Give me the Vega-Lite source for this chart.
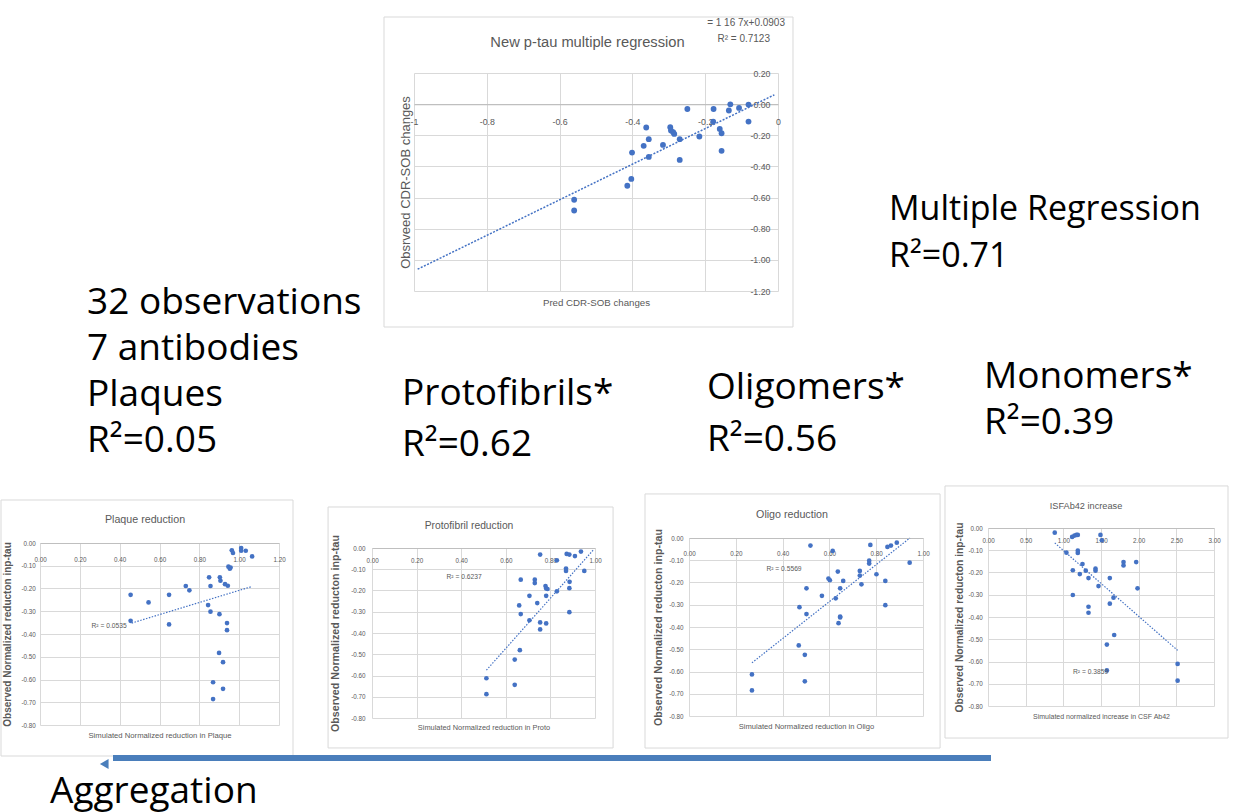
{
  "$schema": "https://vega.github.io/schema/vega-lite/v6.json",
  "background": "white",
  "padding": 0,
  "spacing": 0,
  "bounds": "flush",
  "config": {
    "view": {"stroke": null},
    "locale": {"number": {"decimal": ".", "thousands": ",", "grouping": [3], "currency": ["$", ""], "minus": "-"}},
    "title": {"fontWeight": "normal"},
    "axis": {
      "labelFont": "Liberation Sans", "titleFont": "Liberation Sans",
      "labelColor": "#595959", "titleColor": "#595959",
      "gridColor": "#d9d9d9", "domainColor": "#bfbfbf",
      "ticks": false, "tickSize": 0, "labelFlush": false, "labelOverlap": false, "labelBound": false,
      "titleFontWeight": "normal", "labelAngle": 0
    }
  },
  "datasets": {
    "top": [
      {"x": -0.560, "y": -0.614}, {"x": -0.560, "y": -0.683}, {"x": -0.414, "y": -0.524}, {"x": -0.403, "y": -0.480},
      {"x": -0.401, "y": -0.311}, {"x": -0.369, "y": -0.268}, {"x": -0.362, "y": -0.150}, {"x": -0.355, "y": -0.225},
      {"x": -0.355, "y": -0.339}, {"x": -0.316, "y": -0.262}, {"x": -0.296, "y": -0.148}, {"x": -0.294, "y": -0.170},
      {"x": -0.288, "y": -0.180}, {"x": -0.285, "y": -0.191}, {"x": -0.270, "y": -0.225}, {"x": -0.270, "y": -0.358},
      {"x": -0.249, "y": -0.031}, {"x": -0.216, "y": -0.208}, {"x": -0.178, "y": -0.112}, {"x": -0.177, "y": -0.031},
      {"x": -0.160, "y": -0.159}, {"x": -0.155, "y": -0.187}, {"x": -0.155, "y": -0.300}, {"x": -0.135, "y": -0.041},
      {"x": -0.131, "y": -0.001}, {"x": -0.107, "y": -0.024}, {"x": -0.081, "y": -0.003}, {"x": -0.081, "y": -0.112}
    ],
    "top_trend": [{"x": -0.99, "y": -1.06}, {"x": -0.01, "y": 0.06}],
    "plaque": [
      {"x": 0.455, "y": -0.228}, {"x": 0.455, "y": -0.342}, {"x": 0.545, "y": -0.261}, {"x": 0.648, "y": -0.228},
      {"x": 0.648, "y": -0.358}, {"x": 0.732, "y": -0.189}, {"x": 0.750, "y": -0.208}, {"x": 0.844, "y": -0.273},
      {"x": 0.849, "y": -0.151}, {"x": 0.856, "y": -0.189}, {"x": 0.856, "y": -0.302}, {"x": 0.869, "y": -0.612},
      {"x": 0.869, "y": -0.686}, {"x": 0.899, "y": -0.483}, {"x": 0.901, "y": -0.313}, {"x": 0.903, "y": -0.151},
      {"x": 0.906, "y": -0.166}, {"x": 0.919, "y": -0.524}, {"x": 0.919, "y": -0.641}, {"x": 0.929, "y": -0.181},
      {"x": 0.939, "y": -0.352}, {"x": 0.939, "y": -0.383}, {"x": 0.943, "y": -0.188}, {"x": 0.946, "y": -0.104},
      {"x": 0.953, "y": -0.113}, {"x": 0.957, "y": -0.108}, {"x": 0.963, "y": -0.032}, {"x": 0.969, "y": -0.044},
      {"x": 1.010, "y": -0.022}, {"x": 1.010, "y": -0.034}, {"x": 1.033, "y": -0.034}, {"x": 1.065, "y": -0.059}
    ],
    "plaque_trend": [{"x": 0.46, "y": -0.352}, {"x": 1.065, "y": -0.191}],
    "proto": [
      {"x": 0.513, "y": -0.613}, {"x": 0.513, "y": -0.688}, {"x": 0.640, "y": -0.525}, {"x": 0.640, "y": -0.644},
      {"x": 0.663, "y": -0.481}, {"x": 0.660, "y": -0.270}, {"x": 0.667, "y": -0.311}, {"x": 0.667, "y": -0.149},
      {"x": 0.706, "y": -0.225}, {"x": 0.706, "y": -0.340}, {"x": 0.730, "y": -0.149}, {"x": 0.730, "y": -0.165},
      {"x": 0.741, "y": -0.259}, {"x": 0.754, "y": -0.031}, {"x": 0.754, "y": -0.350}, {"x": 0.754, "y": -0.383},
      {"x": 0.778, "y": -0.179}, {"x": 0.781, "y": -0.190}, {"x": 0.781, "y": -0.225}, {"x": 0.781, "y": -0.355},
      {"x": 0.787, "y": -0.193}, {"x": 0.829, "y": -0.058}, {"x": 0.829, "y": -0.204}, {"x": 0.873, "y": -0.028},
      {"x": 0.870, "y": -0.097}, {"x": 0.870, "y": -0.108}, {"x": 0.885, "y": -0.031}, {"x": 0.886, "y": -0.159},
      {"x": 0.885, "y": -0.189}, {"x": 0.885, "y": -0.302}, {"x": 0.910, "y": -0.038}, {"x": 0.937, "y": -0.017},
      {"x": 0.952, "y": -0.108}
    ],
    "proto_trend": [{"x": 0.513, "y": -0.575}, {"x": 0.996, "y": -0.005}],
    "oligo": [
      {"x": 0.269, "y": -0.613}, {"x": 0.269, "y": -0.685}, {"x": 0.469, "y": -0.483}, {"x": 0.472, "y": -0.311},
      {"x": 0.495, "y": -0.525}, {"x": 0.495, "y": -0.644}, {"x": 0.502, "y": -0.226}, {"x": 0.502, "y": -0.342},
      {"x": 0.519, "y": -0.034}, {"x": 0.568, "y": -0.260}, {"x": 0.596, "y": -0.182}, {"x": 0.602, "y": -0.190},
      {"x": 0.614, "y": -0.058}, {"x": 0.627, "y": -0.271}, {"x": 0.636, "y": -0.151}, {"x": 0.639, "y": -0.383},
      {"x": 0.646, "y": -0.353}, {"x": 0.646, "y": -0.226}, {"x": 0.646, "y": -0.357}, {"x": 0.659, "y": -0.193},
      {"x": 0.730, "y": -0.148}, {"x": 0.730, "y": -0.169}, {"x": 0.737, "y": -0.208}, {"x": 0.770, "y": -0.102},
      {"x": 0.770, "y": -0.115}, {"x": 0.775, "y": -0.031}, {"x": 0.801, "y": -0.163}, {"x": 0.839, "y": -0.193},
      {"x": 0.839, "y": -0.302}, {"x": 0.848, "y": -0.040}, {"x": 0.863, "y": -0.034}, {"x": 0.888, "y": -0.021},
      {"x": 0.943, "y": -0.111}
    ],
    "oligo_trend": [{"x": 0.269, "y": -0.561}, {"x": 0.944, "y": 0.0}],
    "isf": [
      {"x": 0.886, "y": -0.021}, {"x": 1.041, "y": -0.111}, {"x": 1.117, "y": -0.040}, {"x": 1.148, "y": -0.034},
      {"x": 1.174, "y": -0.031}, {"x": 1.192, "y": -0.031}, {"x": 1.126, "y": -0.190}, {"x": 1.126, "y": -0.301},
      {"x": 1.192, "y": -0.102}, {"x": 1.192, "y": -0.112}, {"x": 1.219, "y": -0.207}, {"x": 1.254, "y": -0.162},
      {"x": 1.298, "y": -0.192}, {"x": 1.334, "y": -0.225}, {"x": 1.334, "y": -0.354}, {"x": 1.334, "y": -0.381},
      {"x": 1.427, "y": -0.183}, {"x": 1.427, "y": -0.192}, {"x": 1.467, "y": -0.261}, {"x": 1.493, "y": -0.031},
      {"x": 1.511, "y": -0.055}, {"x": 1.578, "y": -0.524}, {"x": 1.578, "y": -0.640}, {"x": 1.617, "y": -0.225},
      {"x": 1.617, "y": -0.340}, {"x": 1.666, "y": -0.313}, {"x": 1.675, "y": -0.481}, {"x": 1.799, "y": -0.153},
      {"x": 1.799, "y": -0.168}, {"x": 1.967, "y": -0.153}, {"x": 1.985, "y": -0.271}, {"x": 2.517, "y": -0.611},
      {"x": 2.517, "y": -0.686}
    ],
    "isf_trend": [{"x": 0.886, "y": -0.067}, {"x": 2.517, "y": -0.550}]
  },
  "vconcat": [
    {"columns": 2, "spacing": 0, "align": "each", "bounds": "flush", "concat": [
      {"width": 414, "height": 73, "data": {"values": []}, "mark": "point"},
      {"width": 1, "height": 1, "data": {"values": []}, "mark": "point"},
      {"width": 1, "height": 1, "data": {"values": []}, "mark": "point"},
      {
        "width": 364, "height": 218,
        "title": {"text": "New p-tau multiple regression", "anchor": "middle", "frame": "group", "dx": -8.5, "offset": -33.5, "font": "Liberation Sans", "fontSize": 14.7, "fontWeight": "normal", "color": "#595959"},
        "layer": [
          {
            "data": {"name": "top"},
            "mark": {"type": "circle", "size": 34, "color": "#4472c4", "opacity": 1},
            "encoding": {
              "x": {"field": "x", "type": "quantitative", "scale": {"domain": [-1, 0], "nice": false, "zero": false},
                "axis": {"orient": "top", "offset": -31.14, "values": [-1, -0.8, -0.6, -0.4, -0.2, 0], "tickCount": 50, "format": "~g", "labelPadding": -17, "labelBaseline": "middle", "labelFontSize": 8.8, "domain": true, "domainColor": "#bfbfbf", "domainWidth": 1.2, "grid": true,
                  "title": "Pred CDR-SOB changes", "titleFontSize": 9.7, "titleX": 182, "titleY": 198.6, "titleBaseline": "middle", "titleAlign": "center"}},
              "y": {"field": "y", "type": "quantitative", "scale": {"domain": [-1.2, 0.2], "nice": false, "zero": false},
                "axis": {"orient": "right", "values": [-1.2, -1, -0.8, -0.6, -0.4, -0.2, 0, 0.2], "tickCount": 50, "format": ".2f", "labelAlign": "right", "labelPadding": -8, "labelBaseline": "middle", "labelFontSize": 8.8, "domain": false, "grid": true,
                  "title": "Obsrveed  CDR-SOB changes", "titleFontSize": 13, "titleAngle": 270, "titleX": -372.3, "titleY": 109, "titleBaseline": "middle", "titleAlign": "center"}}
            }
          },
          {
            "data": {"name": "top_trend"},
            "mark": {"type": "line", "color": "#4472c4", "strokeWidth": 1.5, "strokeDash": [2, 1.5]},
            "encoding": {
              "x": {"field": "x", "type": "quantitative", "scale": {"domain": [-1, 0], "nice": false, "zero": false}},
              "y": {"field": "y", "type": "quantitative", "scale": {"domain": [-1.2, 0.2], "nice": false, "zero": false}}
            }
          },
          {
            "data": {"values": [{}]},
            "mark": {"type": "rect", "fill": "transparent", "fillOpacity": 0, "stroke": "#d9d9d9", "strokeWidth": 1},
            "encoding": {
              "x": {"datum": -1.0824, "type": "quantitative", "scale": {"domain": [-1, 0], "nice": false, "zero": false}},
              "x2": {"datum": 0.0412},
              "y": {"datum": 0.5596, "type": "quantitative", "scale": {"domain": [-1.2, 0.2], "nice": false, "zero": false}},
              "y2": {"datum": -1.4312}
            }
          },
          {
            "data": {"values": [{}]},
            "mark": {"type": "text", "text": "= 1 16  7x+0.0903", "align": "right", "baseline": "middle", "font": "Liberation Sans", "fontSize": 10, "color": "#595959"},
            "encoding": {
              "x": {"datum": 0.0192, "type": "quantitative", "scale": {"domain": [-1, 0], "nice": false, "zero": false}},
              "y": {"datum": 0.521, "type": "quantitative", "scale": {"domain": [-1.2, 0.2], "nice": false, "zero": false}}
            }
          },
          {
            "data": {"values": [{}]},
            "mark": {"type": "text", "text": "R² = 0.7123", "align": "right", "baseline": "middle", "font": "Liberation Sans", "fontSize": 10, "color": "#595959"},
            "encoding": {
              "x": {"datum": -0.022, "type": "quantitative", "scale": {"domain": [-1, 0], "nice": false, "zero": false}},
              "y": {"datum": 0.418, "type": "quantitative", "scale": {"domain": [-1.2, 0.2], "nice": false, "zero": false}}
            }
          }
        ]
      }
    ]},
    {"columns": 2, "spacing": 0, "align": "each", "bounds": "flush", "concat": [
      {"width": 40, "height": 543, "data": {"values": []}, "mark": "point"},
      {"width": 1, "height": 1, "data": {"values": []}, "mark": "point"},
      {"width": 1, "height": 1, "data": {"values": []}, "mark": "point"},
      {
        "width": 239, "height": 182,
        "title": {"text": "Plaque reduction", "anchor": "middle", "frame": "group", "dx": -14.5, "offset": -25.8, "font": "Liberation Sans", "fontSize": 10.7, "fontWeight": "normal", "color": "#595959"},
        "layer": [
          {
            "data": {"name": "plaque"},
            "mark": {"type": "circle", "size": 22, "color": "#4472c4", "opacity": 1},
            "encoding": {
              "x": {"field": "x", "type": "quantitative", "scale": {"domain": [0, 1.2], "nice": false, "zero": false},
                "axis": {"orient": "top", "values": [0, 0.2, 0.4, 0.6, 0.8, 1, 1.2], "tickCount": 50, "format": ".2f", "labelPadding": -16, "labelBaseline": "middle", "labelFontSize": 6.3, "domain": true, "grid": true,
                  "title": "Simulated Normalized reduction in Plaque", "titleFontSize": 7.7, "titleX": 119.5, "titleY": 192, "titleBaseline": "middle", "titleAlign": "center"}},
              "y": {"field": "y", "type": "quantitative", "scale": {"domain": [-0.8, 0], "nice": false, "zero": false},
                "axis": {"orient": "left", "values": [-0.8, -0.7, -0.6, -0.5, -0.4, -0.3, -0.2, -0.1, 0], "tickCount": 50, "format": ".2f", "labelPadding": 4.7, "labelBaseline": "middle", "labelFontSize": 6.3, "domain": false, "grid": true,
                  "title": "Observed Normalized reducton inp-tau", "titleFontSize": 10, "titleFontWeight": "bold", "titleAngle": 270, "titleX": -33, "titleY": 91, "titleBaseline": "middle", "titleAlign": "center"}}
            }
          },
          {
            "data": {"name": "plaque_trend"},
            "mark": {"type": "line", "color": "#4472c4", "strokeWidth": 1.2, "strokeDash": [1.5, 1.5]},
            "encoding": {
              "x": {"field": "x", "type": "quantitative", "scale": {"domain": [0, 1.2], "nice": false, "zero": false}},
              "y": {"field": "y", "type": "quantitative", "scale": {"domain": [-0.8, 0], "nice": false, "zero": false}}
            }
          },
          {
            "data": {"values": [{}]},
            "mark": {"type": "rect", "fill": "transparent", "fillOpacity": 0, "stroke": "#d9d9d9", "strokeWidth": 1},
            "encoding": {
              "x": {"datum": -0.1958, "type": "quantitative", "scale": {"domain": [0, 1.2], "nice": false, "zero": false}},
              "x2": {"datum": 1.2703},
              "y": {"datum": 0.189, "type": "quantitative", "scale": {"domain": [-0.8, 0], "nice": false, "zero": false}},
              "y2": {"datum": -0.9363}
            }
          },
          {
            "data": {"values": [{}]},
            "mark": {"type": "text", "text": "R² = 0.0535", "align": "right", "baseline": "middle", "font": "Liberation Sans", "fontSize": 6.7, "color": "#595959"},
            "encoding": {
              "x": {"datum": 0.435, "type": "quantitative", "scale": {"domain": [0, 1.2], "nice": false, "zero": false}},
              "y": {"datum": -0.365, "type": "quantitative", "scale": {"domain": [-0.8, 0], "nice": false, "zero": false}}
            }
          }
        ]
      }
    ]},
    {"columns": 2, "spacing": 0, "align": "each", "bounds": "flush", "concat": [
      {"width": 372, "height": 548, "data": {"values": []}, "mark": "point"},
      {"width": 1, "height": 1, "data": {"values": []}, "mark": "point"},
      {"width": 1, "height": 1, "data": {"values": []}, "mark": "point"},
      {
        "width": 223, "height": 170,
        "title": {"text": "Protofibril reduction", "anchor": "middle", "frame": "group", "dx": -14.5, "offset": -25, "font": "Liberation Sans", "fontSize": 10.3, "fontWeight": "normal", "color": "#595959"},
        "layer": [
          {
            "data": {"name": "proto"},
            "mark": {"type": "circle", "size": 22, "color": "#4472c4", "opacity": 1},
            "encoding": {
              "x": {"field": "x", "type": "quantitative", "scale": {"domain": [0, 1], "nice": false, "zero": false},
                "axis": {"orient": "top", "values": [0, 0.2, 0.4, 0.6, 0.8, 1], "tickCount": 50, "format": ".2f", "labelPadding": -12, "labelBaseline": "middle", "labelFontSize": 6.3, "domain": true, "grid": true,
                  "title": "Simulated Normalized reduction in Proto", "titleFontSize": 7.4, "titleX": 111.5, "titleY": 179, "titleBaseline": "middle", "titleAlign": "center"}},
              "y": {"field": "y", "type": "quantitative", "scale": {"domain": [-0.8, 0], "nice": false, "zero": false},
                "axis": {"orient": "left", "values": [-0.8, -0.7, -0.6, -0.5, -0.4, -0.3, -0.2, -0.1, 0], "tickCount": 50, "format": ".2f", "labelPadding": 7, "labelBaseline": "middle", "labelFontSize": 6.3, "domain": false, "grid": true,
                  "title": "Observed Normalized reducton inp-tau", "titleFontSize": 10.7, "titleFontWeight": "bold", "titleAngle": 270, "titleX": -37, "titleY": 85, "titleBaseline": "middle", "titleAlign": "center"}}
            }
          },
          {
            "data": {"name": "proto_trend"},
            "mark": {"type": "line", "color": "#4472c4", "strokeWidth": 1.2, "strokeDash": [1.5, 1.5]},
            "encoding": {
              "x": {"field": "x", "type": "quantitative", "scale": {"domain": [0, 1], "nice": false, "zero": false}},
              "y": {"field": "y", "type": "quantitative", "scale": {"domain": [-0.8, 0], "nice": false, "zero": false}}
            }
          },
          {
            "data": {"values": [{}]},
            "mark": {"type": "rect", "fill": "transparent", "fillOpacity": 0, "stroke": "#d9d9d9", "strokeWidth": 1},
            "encoding": {
              "x": {"datum": -0.197, "type": "quantitative", "scale": {"domain": [0, 1], "nice": false, "zero": false}},
              "x2": {"datum": 1.081},
              "y": {"datum": 0.193, "type": "quantitative", "scale": {"domain": [-0.8, 0], "nice": false, "zero": false}},
              "y2": {"datum": -0.941}
            }
          },
          {
            "data": {"values": [{}]},
            "mark": {"type": "text", "text": "R² = 0.6237", "align": "center", "baseline": "middle", "font": "Liberation Sans", "fontSize": 6.7, "color": "#595959"},
            "encoding": {
              "x": {"datum": 0.413, "type": "quantitative", "scale": {"domain": [0, 1], "nice": false, "zero": false}},
              "y": {"datum": -0.136, "type": "quantitative", "scale": {"domain": [-0.8, 0], "nice": false, "zero": false}}
            }
          }
        ]
      }
    ]},
    {"columns": 2, "spacing": 0, "align": "each", "bounds": "flush", "concat": [
      {"width": 689, "height": 538, "data": {"values": []}, "mark": "point"},
      {"width": 1, "height": 1, "data": {"values": []}, "mark": "point"},
      {"width": 1, "height": 1, "data": {"values": []}, "mark": "point"},
      {
        "width": 234, "height": 178,
        "title": {"text": "Oligo reduction", "anchor": "middle", "frame": "group", "dx": -14, "offset": -27.1, "font": "Liberation Sans", "fontSize": 10.7, "fontWeight": "normal", "color": "#595959"},
        "layer": [
          {
            "data": {"name": "oligo"},
            "mark": {"type": "circle", "size": 22, "color": "#4472c4", "opacity": 1},
            "encoding": {
              "x": {"field": "x", "type": "quantitative", "scale": {"domain": [0, 1], "nice": false, "zero": false},
                "axis": {"orient": "top", "values": [0, 0.2, 0.4, 0.6, 0.8, 1], "tickCount": 50, "format": ".2f", "labelPadding": -15.7, "labelBaseline": "middle", "labelFontSize": 6.3, "domain": true, "grid": true,
                  "title": "Simulated Normalized reduction in Oligo", "titleFontSize": 7.6, "titleX": 117, "titleY": 188, "titleBaseline": "middle", "titleAlign": "center"}},
              "y": {"field": "y", "type": "quantitative", "scale": {"domain": [-0.8, 0], "nice": false, "zero": false},
                "axis": {"orient": "left", "values": [-0.8, -0.7, -0.6, -0.5, -0.4, -0.3, -0.2, -0.1, 0], "tickCount": 50, "format": ".2f", "labelPadding": 6, "labelBaseline": "middle", "labelFontSize": 6.3, "domain": false, "grid": true,
                  "title": "Observed Normalized reducton inp-tau", "titleFontSize": 10.7, "titleFontWeight": "bold", "titleAngle": 270, "titleX": -31, "titleY": 89, "titleBaseline": "middle", "titleAlign": "center"}}
            }
          },
          {
            "data": {"name": "oligo_trend"},
            "mark": {"type": "line", "color": "#4472c4", "strokeWidth": 1.2, "strokeDash": [1.5, 1.5]},
            "encoding": {
              "x": {"field": "x", "type": "quantitative", "scale": {"domain": [0, 1], "nice": false, "zero": false}},
              "y": {"field": "y", "type": "quantitative", "scale": {"domain": [-0.8, 0], "nice": false, "zero": false}}
            }
          },
          {
            "data": {"values": [{}]},
            "mark": {"type": "rect", "fill": "transparent", "fillOpacity": 0, "stroke": "#d9d9d9", "strokeWidth": 1},
            "encoding": {
              "x": {"datum": -0.188, "type": "quantitative", "scale": {"domain": [0, 1], "nice": false, "zero": false}},
              "x2": {"datum": 1.073},
              "y": {"datum": 0.198, "type": "quantitative", "scale": {"domain": [-0.8, 0], "nice": false, "zero": false}},
              "y2": {"datum": -0.944}
            }
          },
          {
            "data": {"values": [{}]},
            "mark": {"type": "text", "text": "R² = 0.5569", "align": "center", "baseline": "middle", "font": "Liberation Sans", "fontSize": 6.7, "color": "#595959"},
            "encoding": {
              "x": {"datum": 0.406, "type": "quantitative", "scale": {"domain": [0, 1], "nice": false, "zero": false}},
              "y": {"datum": -0.141, "type": "quantitative", "scale": {"domain": [-0.8, 0], "nice": false, "zero": false}}
            }
          }
        ]
      }
    ]},
    {"columns": 2, "spacing": 0, "align": "each", "bounds": "flush", "concat": [
      {"width": 988, "height": 528, "data": {"values": []}, "mark": "point"},
      {"width": 1, "height": 1, "data": {"values": []}, "mark": "point"},
      {"width": 1, "height": 1, "data": {"values": []}, "mark": "point"},
      {
        "width": 226, "height": 178,
        "title": {"text": "ISFAb42 increase", "anchor": "middle", "frame": "group", "dx": -15, "offset": -26.1, "font": "Liberation Sans", "fontSize": 9.2, "fontWeight": "normal", "color": "#595959"},
        "layer": [
          {
            "data": {"name": "isf"},
            "mark": {"type": "circle", "size": 22, "color": "#4472c4", "opacity": 1},
            "encoding": {
              "x": {"field": "x", "type": "quantitative", "scale": {"domain": [0, 3], "nice": false, "zero": false},
                "axis": {"orient": "top", "values": [0, 0.5, 1, 1.5, 2, 2.5, 3], "tickCount": 50, "format": ".2f", "labelPadding": -12.4, "labelBaseline": "middle", "labelFontSize": 6.3, "domain": true, "grid": true,
                  "title": "Simulated normalized increase in CSF Ab42", "titleFontSize": 7, "titleX": 113, "titleY": 188.7, "titleBaseline": "middle", "titleAlign": "center"}},
              "y": {"field": "y", "type": "quantitative", "scale": {"domain": [-0.8, 0], "nice": false, "zero": false},
                "axis": {"orient": "left", "values": [-0.8, -0.7, -0.6, -0.5, -0.4, -0.3, -0.2, -0.1, 0], "tickCount": 50, "format": ".2f", "labelPadding": 5.7, "labelBaseline": "middle", "labelFontSize": 6.3, "domain": false, "grid": true,
                  "title": "Observed Normalized reducton inp-tau", "titleFontSize": 10.3, "titleFontWeight": "bold", "titleAngle": 270, "titleX": -29, "titleY": 89, "titleBaseline": "middle", "titleAlign": "center"}}
            }
          },
          {
            "data": {"name": "isf_trend"},
            "mark": {"type": "line", "color": "#4472c4", "strokeWidth": 1.2, "strokeDash": [1.5, 1.5]},
            "encoding": {
              "x": {"field": "x", "type": "quantitative", "scale": {"domain": [0, 3], "nice": false, "zero": false}},
              "y": {"field": "y", "type": "quantitative", "scale": {"domain": [-0.8, 0], "nice": false, "zero": false}}
            }
          },
          {
            "data": {"values": [{}]},
            "mark": {"type": "rect", "fill": "transparent", "fillOpacity": 0, "stroke": "#d9d9d9", "strokeWidth": 1},
            "encoding": {
              "x": {"datum": -0.571, "type": "quantitative", "scale": {"domain": [0, 3], "nice": false, "zero": false}},
              "x2": {"datum": 3.186},
              "y": {"datum": 0.189, "type": "quantitative", "scale": {"domain": [-0.8, 0], "nice": false, "zero": false}},
              "y2": {"datum": -0.944}
            }
          },
          {
            "data": {"values": [{}]},
            "mark": {"type": "text", "text": "R² = 0.3859", "align": "center", "baseline": "middle", "font": "Liberation Sans", "fontSize": 6.7, "color": "#595959"},
            "encoding": {
              "x": {"datum": 1.361, "type": "quantitative", "scale": {"domain": [0, 3], "nice": false, "zero": false}},
              "y": {"datum": -0.649, "type": "quantitative", "scale": {"domain": [-0.8, 0], "nice": false, "zero": false}}
            }
          }
        ]
      }
    ]},
    {"columns": 2, "spacing": 0, "align": "each", "bounds": "flush", "concat": [
      {"width": 113, "height": 755, "data": {"values": []}, "mark": "point"},
      {"width": 1, "height": 1, "data": {"values": []}, "mark": "point"},
      {"width": 1, "height": 1, "data": {"values": []}, "mark": "point"},
      {
        "width": 878, "height": 6,
        "data": {"values": [{}]},
        "layer": [
          {
            "mark": {"type": "rect", "color": "#4a7ebb"},
            "encoding": {
              "x": {"datum": 0, "type": "quantitative", "scale": {"domain": [0, 1], "nice": false, "zero": false}, "axis": null},
              "x2": {"datum": 1},
              "y": {"datum": 0, "type": "quantitative", "scale": {"domain": [0, 1], "nice": false, "zero": false}, "axis": null},
              "y2": {"datum": 1}
            }
          },
          {
            "mark": {"type": "point", "shape": "triangle-left", "filled": true, "size": 100, "color": "#4a7ebb", "opacity": 1},
            "encoding": {
              "x": {"datum": -0.01, "type": "quantitative", "scale": {"domain": [0, 1], "nice": false, "zero": false}, "axis": null},
              "y": {"datum": -0.5, "type": "quantitative", "scale": {"domain": [0, 1], "nice": false, "zero": false}, "axis": null}
            }
          }
        ]
      }
    ]},
    {"columns": 2, "spacing": 0, "align": "each", "bounds": "flush", "concat": [
      {"width": 87, "height": 460, "data": {"values": []}, "mark": "point"},
      {"width": 1, "height": 1, "data": {"values": []}, "mark": "point"},
      {"width": 1, "height": 1, "data": {"values": []}, "mark": "point"},
      {"width": 1, "height": 1, "data": {"values": []}, "mark": "point",
        "title": {"text": ["32 observations", "7 antibodies", "Plaques", "R²=0.05"], "anchor": "start", "frame": "group", "orient": "top", "offset": 0, "font": "Open Sans", "fontSize": 37, "fontWeight": "normal", "color": "black", "lineHeight": 46}}
    ]},
    {"columns": 2, "spacing": 0, "align": "each", "bounds": "flush", "concat": [
      {"width": 889, "height": 274, "data": {"values": []}, "mark": "point"},
      {"width": 1, "height": 1, "data": {"values": []}, "mark": "point"},
      {"width": 1, "height": 1, "data": {"values": []}, "mark": "point"},
      {"width": 1, "height": 1, "data": {"values": []}, "mark": "point",
        "title": {"text": ["Multiple Regression", "R²=0.71"], "anchor": "start", "frame": "group", "orient": "top", "offset": 0, "font": "Open Sans", "fontSize": 34, "fontWeight": "normal", "color": "black", "lineHeight": 47.4}}
    ]},
    {"columns": 2, "spacing": 0, "align": "each", "bounds": "flush", "concat": [
      {"width": 402, "height": 464, "data": {"values": []}, "mark": "point"},
      {"width": 1, "height": 1, "data": {"values": []}, "mark": "point"},
      {"width": 1, "height": 1, "data": {"values": []}, "mark": "point"},
      {"width": 1, "height": 1, "data": {"values": []}, "mark": "point",
        "title": {"text": ["Protofibrils*", "R²=0.62"], "anchor": "start", "frame": "group", "orient": "top", "offset": 0, "font": "Open Sans", "fontSize": 37, "fontWeight": "normal", "color": "black", "lineHeight": 50.6}}
    ]},
    {"columns": 2, "spacing": 0, "align": "each", "bounds": "flush", "concat": [
      {"width": 707, "height": 459, "data": {"values": []}, "mark": "point"},
      {"width": 1, "height": 1, "data": {"values": []}, "mark": "point"},
      {"width": 1, "height": 1, "data": {"values": []}, "mark": "point"},
      {"width": 1, "height": 1, "data": {"values": []}, "mark": "point",
        "title": {"text": ["Oligomers*", "R²=0.56"], "anchor": "start", "frame": "group", "orient": "top", "offset": 0, "font": "Open Sans", "fontSize": 37, "fontWeight": "normal", "color": "black", "lineHeight": 52.4}}
    ]},
    {"columns": 2, "spacing": 0, "align": "each", "bounds": "flush", "concat": [
      {"width": 984, "height": 442, "data": {"values": []}, "mark": "point"},
      {"width": 1, "height": 1, "data": {"values": []}, "mark": "point"},
      {"width": 1, "height": 1, "data": {"values": []}, "mark": "point"},
      {"width": 1, "height": 1, "data": {"values": []}, "mark": "point",
        "title": {"text": ["Monomers*", "R²=0.39"], "anchor": "start", "frame": "group", "orient": "top", "offset": 0, "font": "Open Sans", "fontSize": 37, "fontWeight": "normal", "color": "black", "lineHeight": 45.7}}
    ]},
    {"columns": 2, "spacing": 0, "align": "each", "bounds": "flush", "concat": [
      {"width": 50, "height": 811, "data": {"values": []}, "mark": "point"},
      {"width": 1, "height": 1, "data": {"values": []}, "mark": "point"},
      {"width": 1, "height": 1, "data": {"values": []}, "mark": "point"},
      {"width": 1, "height": 1, "data": {"values": []}, "mark": "point",
        "title": {"text": "Aggregation", "anchor": "start", "frame": "group", "orient": "top", "offset": 0, "font": "Open Sans", "fontSize": 37, "fontWeight": "normal", "color": "black"}}
    ]}
  ]
}
